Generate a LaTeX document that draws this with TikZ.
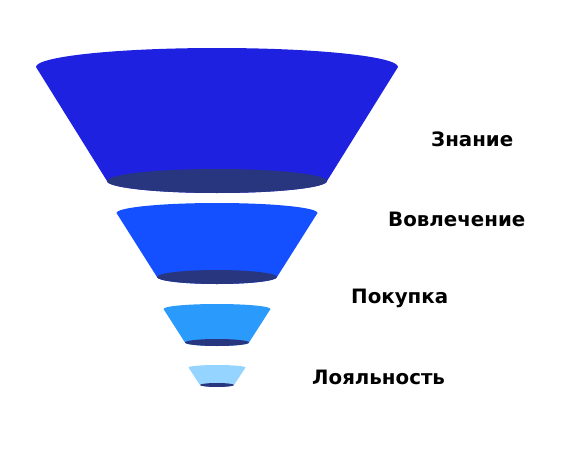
\documentclass[tikz,border=0pt]{standalone}
\usepackage{fontspec}
\setmainfont{DejaVu Sans}
\definecolor{level1}{HTML}{1F21E1}
\definecolor{level2}{HTML}{1450FF}
\definecolor{level3}{HTML}{2A9AFC}
\definecolor{level4}{HTML}{94D4FF}
\definecolor{holeblue}{HTML}{28367F}
\begin{document}
\begin{tikzpicture}[x=1pt,y=1pt]
    \tikzstyle{hole}=[fill=holeblue]
    \tikzstyle{stage}=[anchor=base west,inner sep=0pt,font=\bfseries\fontsize{19.8}{24}\selectfont]

    \useasboundingbox (0,0) rectangle (566,-458);

    % Funnel levels: top y / top radii, bottom y / bottom radii, colour
    \foreach \n/\ty/\ta/\tb/\by/\ba/\bb/\col in {
        1/-67/181/19/-181/110/12/level1,
        2/-213/100.5/10/-277/60/7/level2,
        3/-309/53.5/5/-342.5/32/3.5/level3,
        4/-367.5/28.5/2.5/-385/17/2/level4}
    {
        \coordinate (T-\n) at (217,\ty);
        \coordinate (B-\n) at (217,\by);
        \fill[\col] ([xshift=-\ta pt]T-\n) arc[start angle=180,end angle=0,x radius=\ta,y radius=\tb]
            -- ([xshift=\ba pt]B-\n) arc[start angle=0,end angle=-180,x radius=\ba,y radius=\bb] -- cycle;
        \fill[hole] (B-\n) ellipse[x radius=\ba,y radius=\bb];
    }

    % Stage labels
    \node[stage] (s1) at (431,-146) {Знание};
    \node[stage] (s2) at (388,-226) {Вовлечение};
    \node[stage] (s3) at (351,-303) {Покупка};
    \node[stage] (s4) at (312,-384) {Лояльность};

\end{tikzpicture}
\end{document}
